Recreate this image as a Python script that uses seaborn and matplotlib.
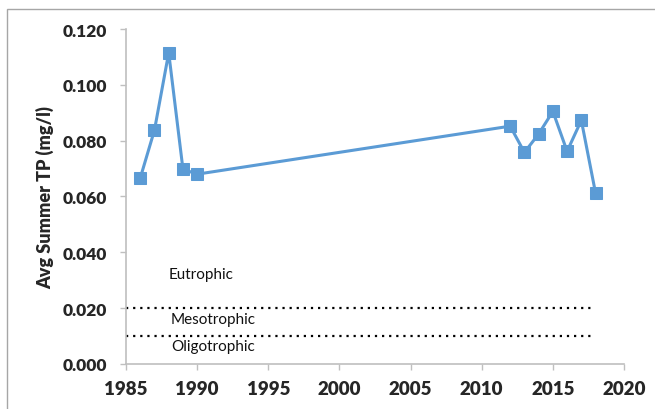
import seaborn as sns
import pandas as pd
import matplotlib
matplotlib.use('Agg')
from matplotlib import pyplot as plt
from matplotlib.patches import Rectangle

# dados
anos = [1986, 1987, 1988, 1989, 1990, 2012, 2013, 2014, 2015, 2016, 2017, 2018]
tp = [0.0666, 0.0838, 0.1115, 0.0698, 0.0680, 0.0852, 0.0758, 0.0824, 0.0905, 0.0762, 0.0873, 0.0612]
limites = [0.020, 0.010]
limite_x = [1985, 2017.9]
classes = ['Eutrophic', 'Mesotrophic', 'Oligotrophic']
classes_x = [1988.0, 1988.1, 1988.2]
classes_y = [0.0323, 0.0162, 0.0064]
xticks = [1985, 1990, 1995, 2000, 2005, 2010, 2015, 2020]
yticks = [0.0, 0.02, 0.04, 0.06, 0.08, 0.10, 0.12]

sns.set_style('white')
plt.rcParams['font.family'] = ['Lato', 'DejaVu Sans']

dados = pd.DataFrame({'ano': anos, 'tp': tp})

fig = plt.figure(figsize=(6.55, 4.1), dpi=100)
ax = fig.add_axes([0.1924, 0.1098, 0.7603, 0.817])

# moldura do grafico
fig.patches.append(Rectangle((0.0107, -0.1), 1.2, 1.0756, transform=fig.transFigure,
                             fill=False, edgecolor='#a6a6a6', linewidth=1.0))

for lim in limites:
    ax.plot(limite_x, [lim, lim], color='black', linestyle=(0, (1, 2.2)), linewidth=1.6)

sns.lineplot(data=dados, x='ano', y='tp', ax=ax, color='#5b9bd5', linewidth=2.2,
             marker='s', markersize=9, markeredgecolor='#5b9bd5')

for nome, xv, yv in zip(classes, classes_x, classes_y):
    ax.text(xv, yv, nome, fontsize=11, color='#111111', va='center', ha='left')

ax.set_xlim(1985, 2020)
ax.set_ylim(0, 0.12)
ax.set_xticks(xticks)
ax.set_yticks(yticks)
ax.set_yticklabels(['%.3f' % v for v in yticks])
ax.tick_params(axis='both', length=4.3, width=1, color='#bfbfbf',
               direction='out', bottom=True, left=True)
ax.tick_params(axis='y', labelsize=12.5, pad=9.5)
ax.tick_params(axis='x', labelsize=13.5, pad=7)
for lab in ax.get_xticklabels() + ax.get_yticklabels():
    lab.set_fontweight('heavy')

ax.set_xlabel('')
ax.set_ylabel('Avg Summer TP (mg/l)', fontsize=13, fontweight='heavy', labelpad=6)

for lado in ['top', 'right']:
    ax.spines[lado].set_visible(False)
for lado in ['left', 'bottom']:
    ax.spines[lado].set_color('#bfbfbf')
    ax.spines[lado].set_linewidth(1.2)

fig.savefig('out.png', dpi=100)
